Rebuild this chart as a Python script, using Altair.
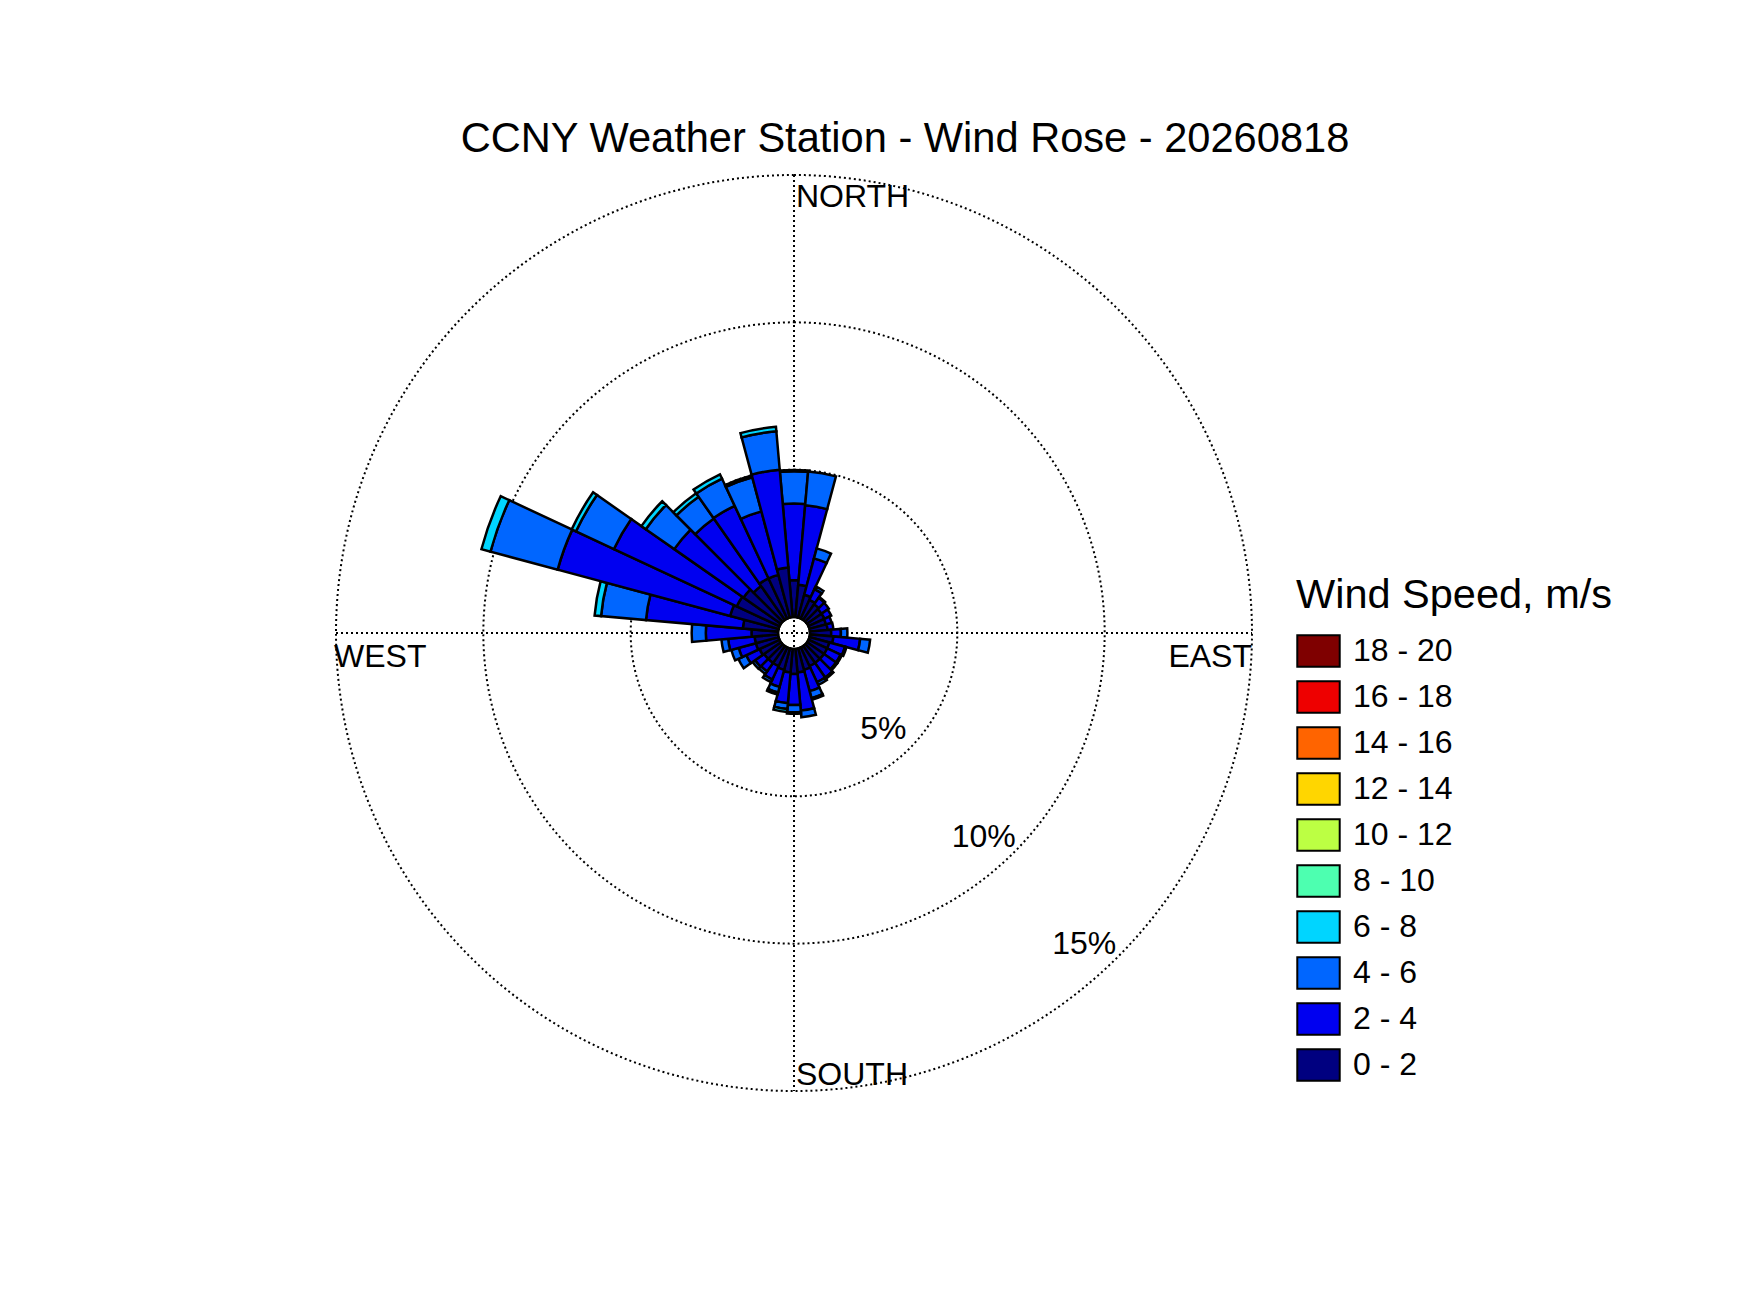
import math
import altair as alt
import pandas as pd

# ---------------- data ----------------
TITLE = "CCNY Weather Station - Wind Rose - 20260818"
LEGEND_TITLE = "Wind Speed, m/s"
DIRS = list(range(0, 360, 10))
BINS = ["0 - 2", "2 - 4", "4 - 6", "6 - 8", "8 - 10",
        "10 - 12", "12 - 14", "14 - 16", "16 - 18", "18 - 20"]
COLORS = ["#000080", "#0000f0", "#0066ff", "#00d5ff", "#4dffb0",
          "#bcff43", "#ffd600", "#ff6400", "#ee0000", "#7f0000"]

# percent of time per direction, one list per speed bin (0..350 deg)
S_0_2 = [1.25, 1.10, 0.80, 0.70, 0.65, 0.60, 0.60, 0.58, 0.60, 0.72,
         0.80, 0.70, 0.70, 0.70, 0.70, 0.70, 0.75, 0.80, 0.85, 0.80,
         0.75, 0.70, 0.70, 0.70, 0.75, 0.80, 0.80, 0.90, 1.20, 1.70,
         1.60, 1.55, 1.40, 1.50, 1.50, 1.69]
S_2_4 = [2.60, 2.71, 1.28, 0.40, 0.27, 0.30, 0.25, 0.20, 0.20, 0.33,
         0.91, 0.55, 0.50, 0.50, 0.60, 0.60, 0.75, 1.30, 1.05, 1.05,
         0.60, 0.50, 0.35, 0.37, 0.50, 0.60, 0.90, 1.55, 3.30, 6.06,
         4.60, 2.87, 2.80, 2.72, 2.23, 3.33]
S_4_6 = [1.10, 1.15, 0.35, 0.10, 0.03, 0.00, 0.00, 0.00, 0.00, 0.22,
         0.34, 0.05, 0.05, 0.05, 0.05, 0.10, 0.25, 0.23, 0.25, 0.20,
         0.20, 0.10, 0.10, 0.10, 0.29, 0.26, 0.23, 0.48, 1.53, 2.36,
         1.42, 1.18, 0.90, 1.02, 1.20, 1.31]
S_6_8 = [0.04, 0.00, 0.00, 0.00, 0.00, 0.00, 0.00, 0.00, 0.00, 0.00,
         0.00, 0.00, 0.00, 0.00, 0.00, 0.00, 0.05, 0.00, 0.05, 0.10,
         0.07, 0.00, 0.00, 0.00, 0.00, 0.00, 0.00, 0.00, 0.22, 0.32,
         0.16, 0.18, 0.15, 0.16, 0.06, 0.15]
SERIES = [S_0_2, S_2_4, S_4_6, S_6_8]

RINGS = [5, 10, 15]
RING_LABELS = ["5%", "10%", "15%"]
COMPASS = ["NORTH", "SOUTH", "WEST", "EAST"]

# ---------------- layout constants ----------------
FONT = "Liberation Sans"
W, H = 1730, 1290
CX, CY = 786, 625          # centre of the rose (plot coords)
R0 = 16                    # radius of the 0% hole
RMAX = 458                 # radius of the 15% ring
HALF = 5                   # half width of a sector (deg)
LABEL_DIR = 137
LABEL_SHIFT = 1.1

# ---------------- tables built from the arrays ----------------
rows = []
for i, d in enumerate(DIRS):
    cum = 0.0
    for b, series in enumerate(SERIES):
        v = series[i]
        if v <= 0:
            continue
        rows.append({"dir": d, "speed": BINS[b], "t0": d - HALF, "t1": d + HALF,
                     "r0": cum, "r1": cum + v})
        cum += v
bars = pd.DataFrame(rows)

rings = pd.DataFrame({"ring": RINGS, "t0": 0, "t1": 360})
ring_lab = pd.DataFrame({"lab": RING_LABELS,
                         "lr": [r - LABEL_SHIFT for r in RINGS],
                         "th": LABEL_DIR})
hole = pd.DataFrame({"r": [0], "t0": [0], "t1": [360]})

theta_scale = alt.Scale(domain=[0, 360], range=[0, 2 * math.pi])
rad_scale = alt.Scale(type="linear", domain=[0, 15], range=[R0, RMAX], zero=False, nice=False)

cx = alt.value(CX)
cy = alt.value(CY)

dotted = dict(color="black", strokeDash=[2, 3], strokeWidth=2)

ring_layer = alt.Chart(rings).mark_arc(filled=False, stroke="black", strokeDash=[2, 3],
                                       strokeWidth=2).encode(
    theta=alt.Theta("t0:Q", scale=theta_scale), theta2="t1:Q",
    radius=alt.Radius("ring:Q", scale=rad_scale), x=cx, y=cy)

vline = alt.Chart(pd.DataFrame({"a": [0]})).mark_rule(**dotted).encode(
    x=alt.value(CX), y=alt.value(CY - RMAX), y2=alt.value(CY + RMAX))
hline = alt.Chart(pd.DataFrame({"a": [0]})).mark_rule(**dotted).encode(
    y=alt.value(CY), x=alt.value(CX - RMAX), x2=alt.value(CX + RMAX))

hole_layer = alt.Chart(hole).mark_arc(color="white").encode(
    theta=alt.Theta("t0:Q", scale=theta_scale), theta2="t1:Q",
    radius=alt.Radius("r:Q", scale=rad_scale), x=cx, y=cy)

legend = alt.Legend(
    title=LEGEND_TITLE, orient="none", legendX=1288, legendY=567,
    symbolType="M-1,-0.74H1V0.74H-1Z", symbolSize=1800,
    symbolStrokeColor="black", symbolStrokeWidth=2, symbolOpacity=1,
    labelFontSize=32, titleFontSize=41.5, titleFontWeight="normal",
    labelFont=FONT, titleFont=FONT, labelColor="black", titleColor="black",
    rowPadding=3, titlePadding=12, labelOffset=12, labelLimit=0, titleLimit=0)

bar_layer = alt.Chart(bars).mark_arc(stroke="black", strokeWidth=2.5, strokeJoin="miter").encode(
    theta=alt.Theta("t0:Q", scale=theta_scale), theta2="t1:Q",
    radius=alt.Radius("r1:Q", scale=rad_scale), radius2="r0:Q",
    color=alt.Color("speed:N", scale=alt.Scale(domain=BINS[::-1], range=COLORS[::-1]),
                    legend=legend),
    x=cx, y=cy)

ring_text = alt.Chart(ring_lab).mark_text(font=FONT, fontSize=32, color="black",
                                          align="center", baseline="middle").encode(
    theta=alt.Theta("th:Q", scale=theta_scale),
    radius=alt.Radius("lr:Q", scale=rad_scale), text="lab:N", x=cx, y=cy)


def label(txt, x, y, align, size=32):
    return alt.Chart(pd.DataFrame({"t": [txt]})).mark_text(
        font=FONT, fontSize=size, color="black", align=align, baseline="alphabetic").encode(
        text="t:N", x=alt.value(x), y=alt.value(y))


title_layer = label(TITLE, 897, 144, "center", 41.6)
north = label(COMPASS[0], CX + 2, CY - RMAX + 32, "left")
south = label(COMPASS[1], CX + 2, CY + RMAX - 6, "left")
west = label(COMPASS[2], CX - RMAX - 2, CY + 34, "left")
east = label(COMPASS[3], CX + RMAX, CY + 34, "right")

chart = alt.layer(
    ring_layer, vline, hline, hole_layer, bar_layer, ring_text,
    title_layer, north, south, west, east
).properties(
    width=W, height=H, autosize=alt.AutoSizeParams(type="none"), padding=0,
    background="white"
).configure_view(stroke=None)

chart.save("out.html", embed_options={"renderer": "svg", "actions": False})
